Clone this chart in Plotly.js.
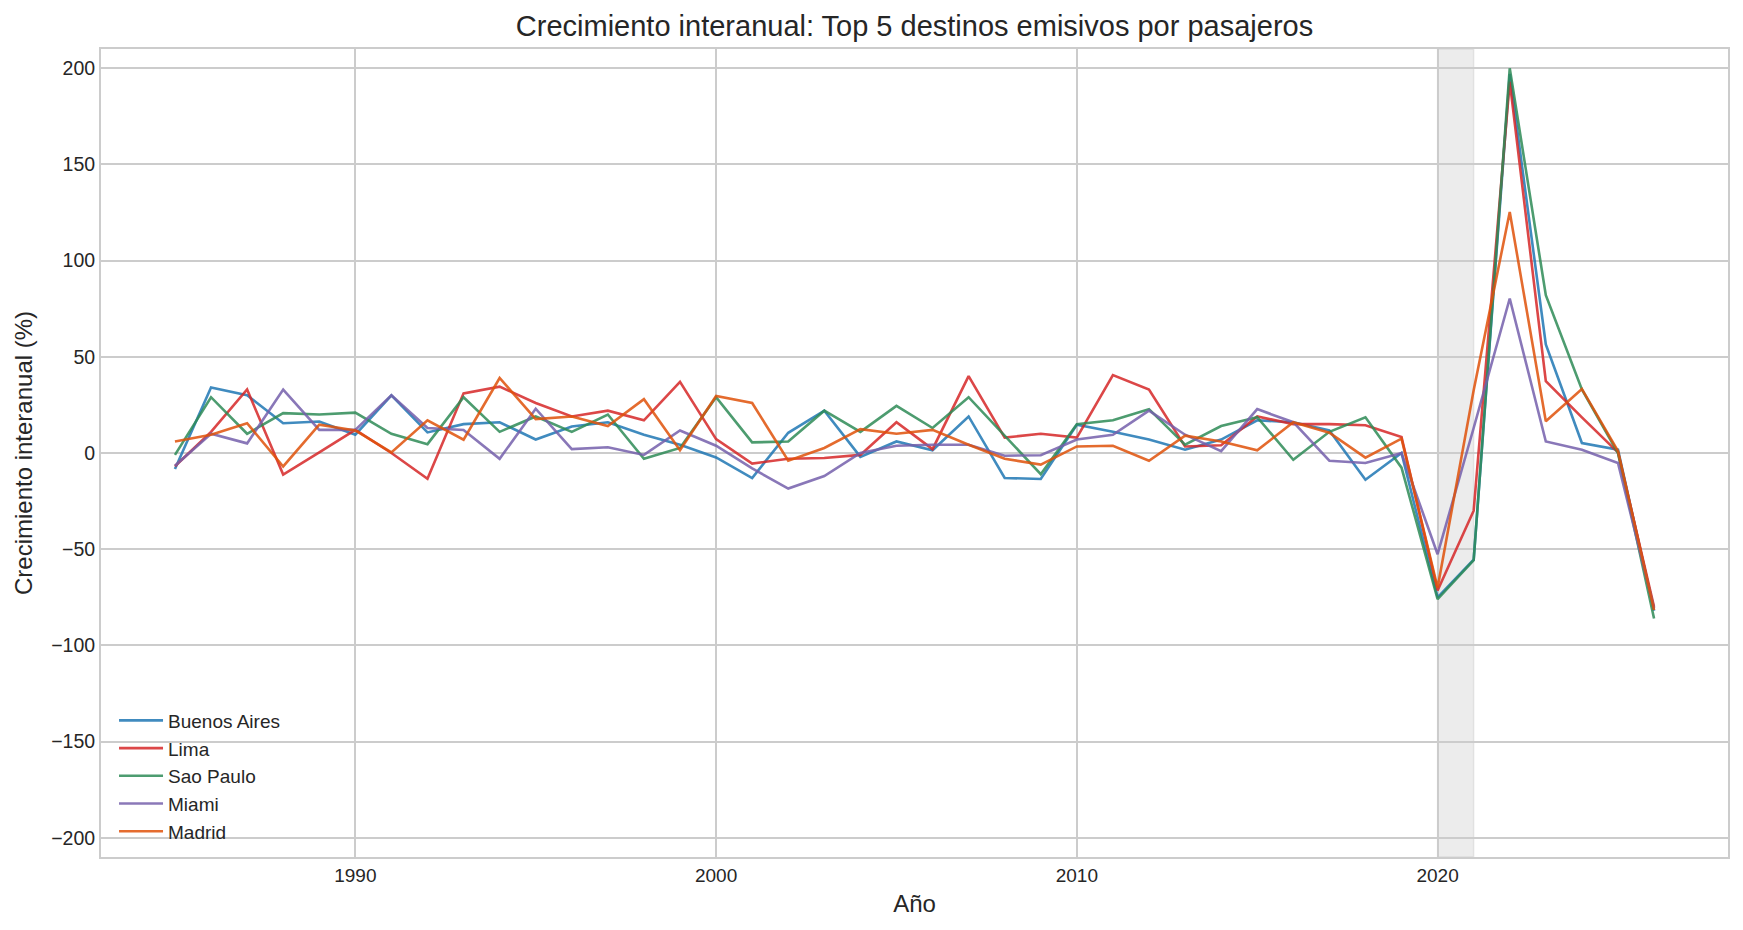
<!DOCTYPE html>
<html>
<head>
<meta charset="utf-8">
<script src="https://cdn.plot.ly/plotly-3.0.1.min.js"></script>
<style>
    body { margin: 0; background: #fff; }
    #growth-chart { width: 1743px; height: 930px; }
</style>
</head>
<body>
<div id="growth-chart"></div>
<script>
const years = [];
for (let y = 1985; y <= 2026; y++) { years.push(y); }

const cities = ['Buenos Aires', 'Lima', 'Sao Paulo', 'Miami', 'Madrid'];

const buenosAires = [-8.3, 34, 30, 15.5, 16.4, 9.5, 30, 10.7, 15, 16, 7, 13.8, 16, 9.5, 4.3, -2.3, -13, 10.5, 22, -2,
    6, 1.4, 19, -13, -13.5, 14.7, 11, 7, 1.7, 7, 17, 16, 11.7, -13.9, 0, -75, -55.5, 197, 56.4, 5.2, 1.7, -82];
const lima = [-6.9, 11, 33, -11.2, 0.3, 12, 0, -13.4, 31, 34.5, 26, 19, 22, 17, 37, 7.2, -5.5, -3, -2.6, -1,
    16, 2, 40, 8, 10, 8, 40.5, 33, 3.4, 4, 19, 15, 15, 14.4, 8.3, -71.5, -30, 193, 37.3, 18.5, 0.3, -80];
const saoPaulo = [-1, 29, 10, 20.7, 20, 21, 10, 4.6, 29, 11, 19, 11, 20, -3, 2.6, 29, 5.5, 6, 22, 11,
    24.5, 13, 29, 9, -11, 15, 17, 22.8, 4.3, 14, 18.6, -3.5, 11, 18.6, -7.6, -76, -55.7, 200, 82, 33, 0, -86];
const miami = [-6.6, 10, 5, 33, 12, 12, 30, 13, 12, -3, 23, 2, 3, -1, 11.7, 3.8, -8, -18.5, -12, 0,
    3.8, 4.3, 4.3, -1.4, -1.2, 7, 9.5, 22, 9.5, 1, 22.8, 16, -4, -5.2, 0, -52.6, 13, 80.3, 6, 1.7, -5.2, -80.7];
const madrid = [6, 9.5, 15.5, -7, 14.7, 11.7, 0.3, 17, 6.9, 39, 17.6, 19, 14, 28, 1.4, 29.6, 26, -4, 2.6, 12.4,
    10, 12, 4.3, -3, -6, 3.4, 3.8, -4, 9, 6, 1.4, 16, 10.5, -2.4, 7.5, -70, 32.6, 125.3, 16.5, 33.3, 1, -81.6];

const series = [buenosAires, lima, saoPaulo, miami, madrid];
const colors = ['#1f77b4', '#d62728', '#2e8b57', '#7560ac', '#e0520a'];

const yTicks = [-200, -150, -100, -50, 0, 50, 100, 150, 200];
const xTicks = [1990, 2000, 2010, 2020];

const drawGrowthChart = () => {
    let data = series.map((values, i) => ({
        x: years,
        y: values,
        name: cities[i],
        type: 'scatter',
        mode: 'lines',
        opacity: 0.85,
        line: { color: colors[i], width: 2.6 },
    }));

    const baseFont = { family: 'Liberation Sans, Arial, sans-serif', color: '#262626' };

    let layout = {
        width: 1743,
        height: 930,
        paper_bgcolor: '#ffffff',
        plot_bgcolor: '#ffffff',
        margin: { l: 101, r: 15, t: 49, b: 73 },
        font: Object.assign({ size: 19 }, baseFont),
        title: {
            text: 'Crecimiento interanual: Top 5 destinos emisivos por pasajeros',
            font: Object.assign({ size: 29 }, baseFont),
            x: 0.5, xref: 'paper',
            y: 0.972, yref: 'container', yanchor: 'middle',
        },
        xaxis: {
            range: [1982.95, 2028.05],
            tickvals: xTicks,
            ticks: '',
            showgrid: true,
            gridcolor: '#cccccc',
            gridwidth: 1.6,
            zeroline: false,
            showline: true,
            linecolor: '#cccccc',
            linewidth: 2,
            mirror: true,
            tickfont: { size: 19 },
            title: { text: 'Año', font: { size: 24 }, standoff: 10 },
        },
        yaxis: {
            range: [-210, 210],
            tickvals: yTicks,
            ticks: '',
            showgrid: true,
            gridcolor: '#cccccc',
            gridwidth: 1.6,
            zeroline: false,
            showline: true,
            linecolor: '#cccccc',
            linewidth: 2,
            mirror: true,
            tickfont: { size: 19.5 },
            title: { text: 'Crecimiento interanual (%)', font: { size: 24 }, standoff: 12 },
        },
        shapes: [
            {
                type: 'rect', layer: 'between',
                xref: 'x', yref: 'paper',
                x0: 2020, x1: 2021, y0: 0, y1: 1,
                fillcolor: 'rgba(128,128,128,0.15)',
                line: { color: 'rgba(128,128,128,0.15)', width: 1.5 },
            },
            {
                type: 'line', layer: 'between',
                xref: 'paper', yref: 'y',
                x0: 0, x1: 1, y0: 0, y1: 0,
                line: { color: '#000000', width: 1.3 },
            },
        ],
        showlegend: true,
        legend: {
            x: 0.008, y: 0.008, xanchor: 'left', yanchor: 'bottom',
            bgcolor: 'rgba(0,0,0,0)',
            itemwidth: 44,
            font: { size: 19 },
        },
    };

    Plotly.newPlot('growth-chart', data, layout, { displayModeBar: false });
}

drawGrowthChart();
</script>
</body>
</html>
